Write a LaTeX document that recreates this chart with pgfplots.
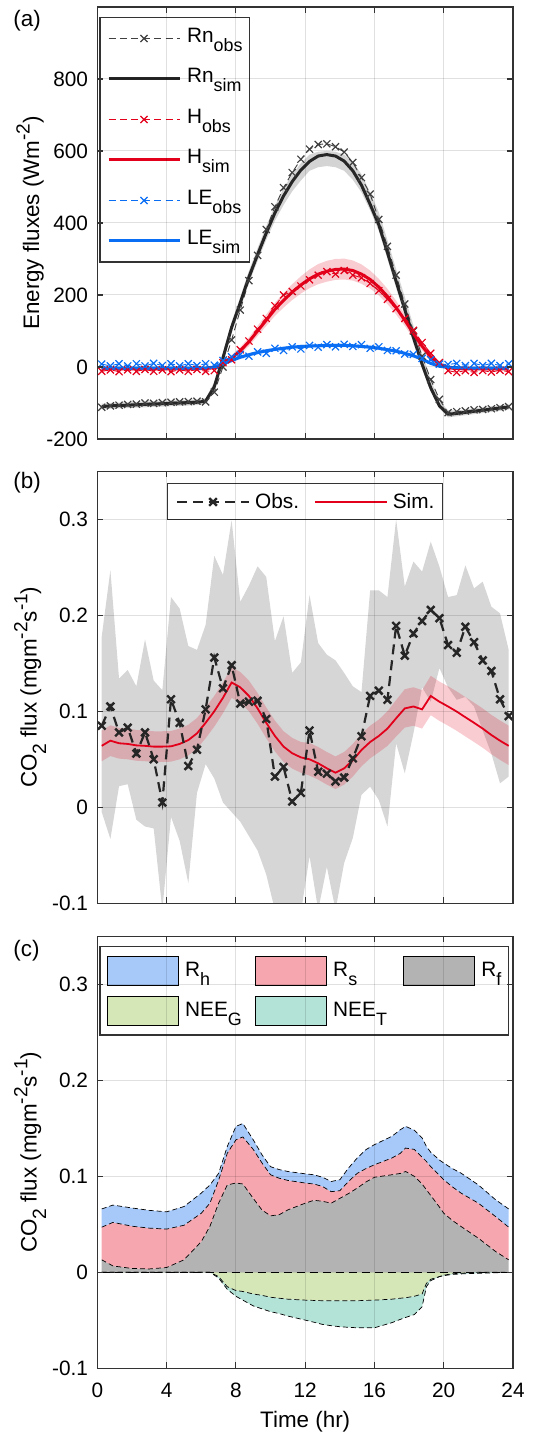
\documentclass[border=0pt]{standalone}
\usepackage{fontspec}
\setmainfont{Liberation Sans}
\usepackage{pgfplots}
\usepackage{pgfplotstable}
\pgfplotsset{compat=1.18}
\usepgfplotslibrary{fillbetween}

\definecolor{rncol}{RGB}{38,38,38}
\definecolor{hcol}{RGB}{227,0,27}
\definecolor{lecol}{RGB}{10,110,245}
\definecolor{obsband}{RGB}{214,214,214}
\definecolor{rhcol}{RGB}{166,201,250}
\definecolor{rscol}{RGB}{246,166,175}
\definecolor{rfcol}{RGB}{179,179,179}
\definecolor{ngcol}{RGB}{213,230,183}
\definecolor{ntcol}{RGB}{179,226,214}

\newcommand{\fs}{\fontsize{10.4bp}{12bp}\selectfont}
\newcommand{\lfs}{\fontsize{11.2bp}{13bp}\selectfont}
\makeatletter
\newcommand{\sbs}[1]{\raisebox{-0.42em}{\fontsize{\fpeval{0.86*\f@size}}{1}\selectfont #1}}
\newcommand{\sps}[1]{\raisebox{0.42em}{\fontsize{\fpeval{0.85*\f@size}}{1}\selectfont #1}}
\makeatother

\pgfplotsset{
  panel/.style={
    scale only axis, width=207.8bp, height=216bp,
    xmin=0, xmax=24, xtick={0,4,...,24},
    grid=major, grid style={black, opacity=0.12, line width=0.5bp},
    axis line style={black!80, line width=0.55bp},
    tick style={black!80, line width=0.55bp},
    tick align=inside, major tick length=3bp,
    axis on top, scaled y ticks=false,
    tick label style={font=\fs},
    label style={font=\lfs},
    /pgf/number format/assume math mode=true,
    xticklabel style={yshift=-4bp},
    yticklabel style={xshift=-1.2bp},
    ylabel style={at={(axis description cs:-0.162,0.5)}, anchor=center},
  },
  obsA/.style={line width=0.45bp, dash pattern=on 3.5bp off 2.2bp,
    mark=x, mark size=2.5bp, mark options={solid, line width=0.6bp}},
  simA/.style={line width=1.5bp},
  obsB/.style={black!85, line width=1.1bp, dash pattern=on 5bp off 3bp,
    mark=x, mark size=2.7bp, mark options={solid, line width=1.2bp}},
  simB/.style={hcol, line width=0.9bp},
  edge/.style={black, line width=0.35bp, dash pattern=on 2.5bp off 1.5bp},
  areaimg/.style={legend image code/.code={\fill[##1] (0bp,-7.25bp) rectangle (35.5bp,7.25bp);}},
}

% (a) energy fluxes, half-hourly means
\pgfplotstableread{
t rnobs rnsim rnlo rnhi hobs hsim hlo hhi leobs lesim lelo lehi
0.25 -112 -110 -118 -102 -12 -5 -9 -1 8 -3 -7 1
0.75 -108 -108 -116 -100 -8 -5 -9 -1 3 -3 -7 1
1.25 -106 -107 -115 -99 -13 -5 -9 -1 9 -3 -7 1
1.75 -104 -106 -114 -98 -8 -5 -9 -1 3 -3 -7 1
2.25 -103 -105 -113 -97 -12 -5 -9 -1 9 -3 -7 1
2.75 -100 -104 -112 -96 -7 -5 -9 -1 3 -3 -7 1
3.25 -101 -103 -111 -95 -12 -5 -9 -1 10 -3 -7 1
3.75 -99 -102 -110 -94 -8 -5 -9 -1 4 -3 -7 1
4.25 -98 -101 -109 -93 -13 -5 -9 -1 9 -3 -7 1
4.75 -97 -100 -108 -92 -8 -5 -9 -1 3 -3 -7 1
5.25 -96 -99 -107 -91 -12 -5 -9 -1 9 -3 -7 1
5.75 -95 -98 -106 -90 -7 -5 -9 -1 4 -3 -7 1
6.25 -97 -95 -103 -87 -12 -4 -8 0 9 -3 -7 1
6.75 -70 -55 -68 -42 -10 -2 -7 3 5 0 -4 4
7.25 0 25 10 40 12 8 2 14 18 8 4 12
7.75 75 110 95 125 20 25 17 33 28 18 13 23
8.25 158 178 162 194 48 45 35 55 35 27 22 32
8.75 240 250 233 267 72 70 58 82 30 34 29 39
9.25 310 312 294 330 105 100 86 114 42 40 35 45
9.75 382 372 353 391 135 130 114 146 38 45 40 50
10.25 445 428 406 448 170 160 142 178 52 49 44 54
10.75 498 475 450 496 200 185 165 205 46 52 47 57
11.25 540 515 488 535 210 208 186 230 56 55 50 60
11.75 577 547 518 566 225 228 204 252 50 57 52 62
12.25 605 571 545 590 242 245 219 271 60 58 53 63
12.75 618 586 555 598 255 258 230 286 55 59 54 64
13.25 620 590 558 600 265 266 237 295 62 60 55 65
13.75 612 586 555 598 258 271 242 300 56 60 55 65
14.25 597 572 545 590 268 272 243 301 63 60 55 65
14.75 568 545 520 570 255 268 240 296 57 59 54 64
15.25 526 505 485 535 248 258 231 285 62 57 52 62
15.75 480 452 435 485 232 243 218 268 52 55 50 60
16.25 410 395 378 430 212 222 199 245 56 52 47 57
16.75 335 318 300 352 188 196 175 217 46 48 43 53
17.25 255 238 220 272 162 165 146 184 45 44 39 49
17.75 175 160 142 195 135 130 114 146 36 38 33 43
18.25 100 82 66 115 102 93 79 107 35 31 26 36
18.75 30 8 -5 38 68 58 46 70 24 22 17 27
19.25 -35 -58 -68 -35 38 28 19 37 20 10 6 14
19.75 -90 -108 -115 -95 12 8 2 14 8 2 -2 6
20.25 -127 -131 -140 -120 -10 -2 -6 2 7 -1 -5 3
20.75 -124 -129 -137 -121 -15 -4 -8 0 10 -2 -6 2
21.25 -122 -126 -134 -118 -10 -5 -9 -1 4 -3 -7 1
21.75 -119 -123 -131 -115 -15 -5 -9 -1 10 -3 -7 1
22.25 -118 -120 -128 -112 -10 -5 -9 -1 4 -3 -7 1
22.75 -116 -117 -125 -109 -14 -5 -9 -1 10 -3 -7 1
23.25 -113 -114 -122 -106 -9 -5 -9 -1 4 -3 -7 1
23.75 -110 -111 -119 -103 -13 -5 -9 -1 9 -3 -7 1
}\tabA

% (b) CO2 flux: observed mean with its range, simulated mean with its band
\pgfplotstableread{
t obs glo ghi sim slo shi
0.25 0.085 -0.005 0.178 0.064 0.048 0.080
0.75 0.105 -0.033 0.247 0.0694 0.0534 0.0854
1.25 0.078 0.022 0.134 0.0667 0.0507 0.0827
1.75 0.083 0.024 0.143 0.066 0.050 0.082
2.25 0.056 -0.013 0.126 0.0645 0.0485 0.0805
2.75 0.078 -0.020 0.175 0.064 0.048 0.080
3.25 0.050 -0.022 0.132 0.0632 0.0472 0.0792
3.75 0.005 -0.107 0.122 0.0632 0.0472 0.0792
4.25 0.1125 -0.010 0.219 0.0635 0.0475 0.0795
4.75 0.088 -0.035 0.207 0.066 0.050 0.082
5.25 0.043 -0.079 0.168 0.070 0.054 0.086
5.75 0.060 0.015 0.164 0.077 0.061 0.093
6.25 0.102 0.045 0.190 0.088 0.072 0.104
6.75 0.156 0.030 0.262 0.100 0.084 0.116
7.25 0.124 0.005 0.242 0.114 0.098 0.130
7.75 0.148 -0.005 0.299 0.130 0.114 0.146
8.25 0.108 -0.015 0.214 0.125 0.109 0.141
8.75 0.110 -0.030 0.231 0.116 0.100 0.132
9.25 0.111 -0.045 0.251 0.103 0.087 0.119
9.75 0.092 -0.070 0.240 0.088 0.072 0.104
10.25 0.032 -0.107 0.173 0.0743 0.0583 0.0903
10.75 0.042 -0.110 0.199 0.0632 0.0472 0.0792
11.25 0.006 -0.110 0.140 0.0563 0.0403 0.0723
11.75 0.015 -0.110 0.151 0.052 0.036 0.068
12.25 0.080 -0.051 0.221 0.050 0.033 0.067
12.75 0.037 -0.107 0.171 0.0458 0.0288 0.0628
13.25 0.035 -0.062 0.159 0.0406 0.0236 0.0576
13.75 0.027 -0.107 0.153 0.036 0.019 0.053
14.25 0.031 -0.058 0.140 0.0406 0.0236 0.0576
14.75 0.051 -0.032 0.126 0.049 0.032 0.066
15.25 0.074 0.013 0.120 0.0597 0.0427 0.0767
15.75 0.116 0.0215 0.226 0.068 0.051 0.085
16.25 0.1215 0.0076 0.226 0.0743 0.0573 0.0913
16.75 0.112 -0.020 0.219 0.082 0.064 0.100
17.25 0.189 0.0667 0.300 0.0927 0.0737 0.1117
17.75 0.158 0.0354 0.230 0.103 0.083 0.123
18.25 0.181 0.077 0.256 0.105 0.085 0.125
18.75 0.194 0.125 0.2455 0.102 0.082 0.122
19.25 0.2056 0.110 0.2767 0.116 0.096 0.137
19.75 0.197 0.145 0.2507 0.110 0.090 0.131
20.25 0.169 0.125 0.219 0.105 0.085 0.126
20.75 0.161 0.112 0.221 0.0997 0.0797 0.1207
21.25 0.188 0.115 0.252 0.0938 0.0738 0.1148
21.75 0.172 0.105 0.228 0.088 0.068 0.109
22.25 0.153 0.080 0.235 0.082 0.062 0.103
22.75 0.142 0.056 0.209 0.0753 0.0553 0.0963
23.25 0.1125 0.025 0.202 0.0694 0.0494 0.0904
23.75 0.095 0.032 0.164 0.064 0.044 0.085
}\tabB

% (c) stacked components: cumulative tops of Rf, Rf+Rs, Rf+Rs+Rh and
% cumulative bottoms of NEE_G, NEE_G+NEE_T
\pgfplotstableread{
t rf rs tot g nt
0.25 0.013 0.047 0.066 0 0
0.9 0.0066 0.052 0.070 0 0
2 0.004 0.048 0.067 0 0
3 0.0035 0.046 0.0645 0 0
4 0.005 0.045 0.063 0 0
5 0.013 0.049 0.0685 0 0
6 0.032 0.0615 0.0825 0 0
6.5 0.048 0.072 0.091 0 0
7 0.072 0.096 0.103 -0.0045 -0.006
7.5 0.091 0.124 0.131 -0.015 -0.0177
8 0.093 0.138 0.152 -0.019 -0.025
8.4 0.092 0.141 0.155 -0.020 -0.029
9 0.077 0.128 0.138 -0.0226 -0.035
9.5 0.065 0.114 0.1225 -0.024 -0.038
10 0.0588 0.1016 0.110 -0.026 -0.041
10.5 0.060 0.098 0.107 -0.027 -0.043
11 0.065 0.0957 0.105 -0.028 -0.0456
12 0.072 0.093 0.1026 -0.029 -0.0498
12.5 0.075 0.092 0.1016 -0.0293 -0.052
13 0.074 0.0894 0.099 -0.0296 -0.0543
13.5 0.072 0.084 0.0946 -0.0296 -0.0556
14 0.077 0.085 0.0964 -0.0296 -0.0567
14.5 0.082 0.0946 0.1086 -0.0296 -0.0573
15 0.0877 0.103 0.119 -0.0296 -0.0578
15.5 0.094 0.108 0.1277 -0.0293 -0.0578
16 0.099 0.112 0.133 -0.029 -0.0578
17 0.1016 0.119 0.1416 -0.028 -0.0525
17.5 0.103 0.124 0.1486 -0.027 -0.049
17.8 0.105 0.1294 0.152 -0.0265 -0.047
18.3 0.100 0.128 0.148 -0.025 -0.044
18.75 0.092 0.120 0.140 -0.0226 -0.0358
19 0.086 0.1155 0.131 -0.0115 -0.015
19.25 0.080 0.110 0.125 -0.0073 -0.0087
19.75 0.068 0.101 0.117 -0.0045 -0.0045
20 0.0616 0.0964 0.1138 -0.003 -0.0035
20.5 0.054 0.089 0.108 -0.0015 -0.0022
21 0.0477 0.0825 0.1033 -0.001 -0.0017
22 0.0355 0.072 0.091 0 -0.001
23 0.0216 0.058 0.0755 0 -0.0005
23.75 0.013 0.047 0.066 0 0
}\tabC

\begin{document}
\begin{tikzpicture}

% ---------------- (a) ----------------
\begin{axis}[panel, at={(48.7bp,499bp)}, anchor=south west,
  ymin=-200, ymax=1000, ytick={-200,0,...,800}, xticklabels={},
  ylabel={Energy fluxes (Wm\sps{-2})},
  legend cell align=left,
  legend style={at={(0.005,0.977)}, anchor=north west, draw=black!80,
    line width=0.55bp, fill=white, font=\fs, inner xsep=3.5bp, inner ysep=3.5bp,
    row sep=6.25bp, nodes={inner sep=0pt, text height=9bp, text depth=5bp},
    /tikz/every odd column/.append style={column sep=3bp}},
  legend image code/.code={\draw[mark repeat=2,mark phase=2,#1]
    plot coordinates {(0bp,0bp) (17.75bp,0bp) (35.5bp,0bp)};},
]
\addplot[draw=none, name path=rnlo, forget plot] table[x=t,y=rnlo]{\tabA};
\addplot[draw=none, name path=rnhi, forget plot] table[x=t,y=rnhi]{\tabA};
\addplot[draw=none, name path=hlo, forget plot] table[x=t,y=hlo]{\tabA};
\addplot[draw=none, name path=hhi, forget plot] table[x=t,y=hhi]{\tabA};
\addplot[draw=none, name path=lelo, forget plot] table[x=t,y=lelo]{\tabA};
\addplot[draw=none, name path=lehi, forget plot] table[x=t,y=lehi]{\tabA};
\addplot[black, fill opacity=0.17, draw=none, forget plot] fill between[of=rnlo and rnhi];
\addplot[hcol, fill opacity=0.2, draw=none, forget plot] fill between[of=hlo and hhi];
\addplot[lecol, fill opacity=0.2, draw=none, forget plot] fill between[of=lelo and lehi];

\addplot[obsA, black!75] table[x=t,y=rnobs]{\tabA};
\addlegendentry{Rn\sbs{obs}}
\addplot[simA, rncol] table[x=t,y=rnsim]{\tabA};
\addlegendentry{Rn\sbs{sim}}
\addplot[obsA, hcol] table[x=t,y=hobs]{\tabA};
\addlegendentry{H\sbs{obs}}
\addplot[simA, hcol] table[x=t,y=hsim]{\tabA};
\addlegendentry{H\sbs{sim}}
\addplot[obsA, lecol] table[x=t,y=leobs]{\tabA};
\addlegendentry{LE\sbs{obs}}
\addplot[simA, lecol] table[x=t,y=lesim]{\tabA};
\addlegendentry{LE\sbs{sim}}
\end{axis}

% ---------------- (b) ----------------
\begin{axis}[panel, at={(48.7bp,266.85bp)}, anchor=south west,
  ymin=-0.1, ymax=0.35, ytick={-0.1,0,0.1,0.2,0.3}, xticklabels={},
  ylabel={CO\sbs{2} flux (mgm\sps{-2}s\sps{-1})},
  legend columns=2, legend cell align=left,
  legend style={at={(0.5,0.972)}, anchor=north, draw=black!80,
    line width=0.55bp, fill=white, font=\fs, inner xsep=4bp, inner ysep=4.5bp,
    nodes={inner sep=0pt, text height=8bp, text depth=1bp},
    /tikz/every odd column/.append style={column sep=2.5bp},
    /tikz/every even column/.append style={column sep=7.5bp}},
  legend image code/.code={\draw[mark repeat=2,mark phase=2,#1]
    plot coordinates {(0bp,0bp) (18bp,0bp) (36bp,0bp)};},
]
\addplot[draw=none, name path=glo, forget plot] table[x=t,y=glo]{\tabB};
\addplot[draw=none, name path=ghi, forget plot] table[x=t,y=ghi]{\tabB};
\addplot[draw=none, name path=slo, forget plot] table[x=t,y=slo]{\tabB};
\addplot[draw=none, name path=shi, forget plot] table[x=t,y=shi]{\tabB};
\addplot[obsband, draw=none, forget plot] fill between[of=glo and ghi];
\addplot[hcol, fill opacity=0.2, draw=none, forget plot] fill between[of=slo and shi];
\addplot[simB, forget plot] table[x=t,y=sim]{\tabB};
\addplot[obsB] table[x=t,y=obs]{\tabB};
\addlegendentry{Obs.}
\addlegendimage{simB}
\addlegendentry{Sim.}
\end{axis}

% ---------------- (c) ----------------
\begin{axis}[panel, at={(48.7bp,34.35bp)}, anchor=south west,
  ymin=-0.1, ymax=0.35, ytick={-0.1,0,0.1,0.2,0.3},
  xlabel={Time (hr)},
  xlabel style={at={(axis description cs:0.5,-0.1236)}, anchor=center},
  ylabel={CO\sbs{2} flux (mgm\sps{-2}s\sps{-1})},
  legend columns=3, legend cell align=left,
  legend style={at={(0.005,0.977)}, anchor=north west, draw=black!80,
    line width=0.55bp, fill=white, font=\fs, inner xsep=3.5bp, inner ysep=4.5bp,
    row sep=5bp, nodes={inner sep=0pt, text height=10bp, text depth=4.5bp},
    /tikz/every odd column/.append style={column sep=3bp}},
]
\addplot[draw=none, name path=zero, forget plot] coordinates {(0.25,0) (23.75,0)};
\addplot[draw=none, name path=rf, forget plot] table[x=t,y=rf]{\tabC};
\addplot[draw=none, name path=rs, forget plot] table[x=t,y=rs]{\tabC};
\addplot[draw=none, name path=tot, forget plot] table[x=t,y=tot]{\tabC};
\addplot[draw=none, name path=g, forget plot] table[x=t,y=g]{\tabC};
\addplot[draw=none, name path=nt, forget plot] table[x=t,y=nt]{\tabC};
\addplot[rfcol, draw=none, forget plot] fill between[of=zero and rf];
\addplot[rscol, draw=none, forget plot] fill between[of=rf and rs];
\addplot[rhcol, draw=none, forget plot] fill between[of=rs and tot];
\addplot[ngcol, draw=none, forget plot] fill between[of=zero and g];
\addplot[ntcol, draw=none, forget plot] fill between[of=g and nt];
\addplot[edge, forget plot] table[x=t,y=rf]{\tabC};
\addplot[edge, forget plot] table[x=t,y=rs]{\tabC};
\addplot[edge, forget plot] table[x=t,y=tot]{\tabC};
\addplot[edge, forget plot] table[x=t,y=g]{\tabC};
\addplot[edge, forget plot] table[x=t,y=nt]{\tabC};
\addplot[black, line width=0.7bp, dash pattern=on 4bp off 2.5bp, forget plot]
  coordinates {(0.25,0) (23.75,0)};

\addlegendimage{areaimg, fill=rhcol}
\addlegendentry{\makebox[35bp][l]{R\sbs{h}}}
\addlegendimage{areaimg, fill=rscol}
\addlegendentry{\makebox[35bp][l]{R\sbs{s}}}
\addlegendimage{areaimg, fill=rfcol}
\addlegendentry{R\sbs{f}}
\addlegendimage{areaimg, fill=ngcol}
\addlegendentry{\makebox[35bp][l]{NEE\sbs{G}}}
\addlegendimage{areaimg, fill=ntcol}
\addlegendentry{\makebox[35bp][l]{NEE\sbs{T}}}
\end{axis}

\node[anchor=west, inner sep=0pt, font=\lfs] at (6.5bp,708bp) {(a)};
\node[anchor=west, inner sep=0pt, font=\lfs] at (6.5bp,477bp) {(b)};
\node[anchor=west, inner sep=0pt, font=\lfs] at (6.5bp,243bp) {(c)};

% page frame
\pgfresetboundingbox
\path[use as bounding box] (0,0) rectangle (272.5bp,718.5bp);
\end{tikzpicture}
\end{document}
